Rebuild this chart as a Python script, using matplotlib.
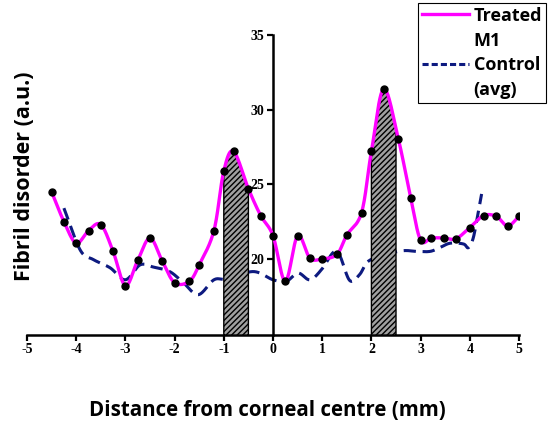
import matplotlib
matplotlib.use("Agg")
import matplotlib.pyplot as plt
import numpy as np

# treated eye (M1) measured points
treated_x = [-4.5, -4.25, -4.0, -3.75, -3.5, -3.25, -3.0, -2.75, -2.5, -2.25,
             -2.0, -1.7, -1.5, -1.2, -1.0, -0.8, -0.5, -0.25, 0.0, 0.25,
             0.5, 0.75, 1.0, 1.3, 1.5, 1.8, 2.0, 2.25, 2.55, 2.8,
             3.0, 3.22, 3.47, 3.72, 4.0, 4.28, 4.54, 4.77, 5.0]
treated_y = [24.5, 22.5, 21.05, 21.9, 22.3, 20.5, 18.2, 19.9, 21.4, 19.85,
             18.4, 18.5, 19.6, 21.9, 25.9, 27.2, 24.7, 22.9, 21.55, 18.5,
             21.55, 20.05, 20.0, 20.3, 21.6, 23.1, 27.2, 31.4, 28.0, 24.05,
             21.25, 21.4, 21.4, 21.35, 22.1, 22.9, 22.85, 22.2, 22.85]

# control average profile
control_x = [-4.25, -3.92, -3.65, -3.31, -3.0, -2.7, -2.43, -2.1, -1.82, -1.52,
             -1.2, -0.94, -0.4, 0.0, 0.27, 0.51, 0.75, 0.99, 1.23, 1.36,
             1.56, 1.76, 1.94, 2.3, 2.65, 2.92, 3.19, 3.39, 3.6, 3.87,
             3.97, 4.07, 4.17, 4.24]
control_y = [23.4, 20.6, 19.95, 19.4, 18.6, 19.6, 19.45, 19.15, 18.4, 17.6,
             18.6, 18.65, 19.15, 18.6, 18.5, 19.05, 18.6, 19.3, 20.45, 20.2,
             18.55, 18.95, 19.85, 20.3, 20.55, 20.5, 20.5, 20.75, 21.05, 21.0,
             20.75, 21.4, 23.1, 24.35]

# shaded regions of the treated profile
regions = [(-1.0, -0.5), (2.0, 2.5)]

x_ticks = [-5, -4, -3, -2, -1, 0, 1, 2, 3, 4, 5]
y_ticks = [20, 25, 30, 35]

MAGENTA = "#ff00ff"
NAVY = "#0d1a80"
LABEL_FONT = "Open Sans"


def _smooth(x, y, n=24):
    # Catmull-Rom curve through the points, only for drawing the line
    x = np.asarray(x, dtype=float)
    y = np.asarray(y, dtype=float)
    px = np.concatenate([[2 * x[0] - x[1]], x, [2 * x[-1] - x[-2]]])
    py = np.concatenate([[2 * y[0] - y[1]], y, [2 * y[-1] - y[-2]]])
    t = np.linspace(0, 1, n, endpoint=False)
    xs, ys = [], []
    for i in range(len(x) - 1):
        for p, out in ((px, xs), (py, ys)):
            p0, p1, p2, p3 = p[i:i + 4]
            out.append(0.5 * (2 * p1 + (p2 - p0) * t
                              + (2 * p0 - 5 * p1 + 4 * p2 - p3) * t ** 2
                              + (-p0 + 3 * p1 - 3 * p2 + p3) * t ** 3))
    xs.append([x[-1]])
    ys.append([y[-1]])
    return np.concatenate(xs), np.concatenate(ys)


fig = plt.figure(figsize=(5.48, 4.25), dpi=100)
ax = fig.add_axes([27 / 548, 90 / 425, 492 / 548, 300 / 425])

y_bottom = 14.9
ax.set_xlim(-5, 5)
ax.set_ylim(y_bottom, 35)

tx, ty = _smooth(treated_x, treated_y)
cx, cy = _smooth(control_x, control_y)

ax.plot(cx, cy, color=NAVY, linewidth=2.2, linestyle=(0, (4, 2.2)), zorder=2)

for x0, x1 in regions:
    sel = (tx > x0) & (tx < x1)
    fx = np.concatenate([[x0], tx[sel], [x1]])
    fy = np.concatenate([[np.interp(x0, tx, ty)], ty[sel], [np.interp(x1, tx, ty)]])
    ax.fill_between(fx, y_bottom, fy, facecolor="#a0a0a0", edgecolor="black",
                    hatch="//////", linewidth=1.0, zorder=3)

ax.plot(tx, ty, color=MAGENTA, linewidth=2.4, zorder=4)
ax.plot(treated_x, treated_y, "o", color="black", markersize=5, zorder=5)

# legend: second line of each label gets an empty handle
h_treat, = ax.plot([], [], color=MAGENTA, linewidth=2.4)
h_ctrl, = ax.plot([], [], color=NAVY, linewidth=2.2, linestyle=(0, (2, 1)))
h_none, = ax.plot([], [], color="none")
leg = fig.legend([h_treat, h_none, h_ctrl, h_none], ["Treated", "M1", "Control", "(avg)"],
                 loc="upper right", bbox_to_anchor=(0.999, 0.997),
                 frameon=True, fancybox=False, framealpha=1, edgecolor="black",
                 handlelength=2.6, handletextpad=0.25, borderpad=0.2, labelspacing=0.38,
                 borderaxespad=0.1,
                 prop={"family": LABEL_FONT, "weight": "bold", "size": 13})
leg.get_frame().set_linewidth(0.8)

ax.spines["left"].set_position(("data", 0))
ax.spines["right"].set_visible(False)
ax.spines["top"].set_visible(False)
for s in ("left", "bottom"):
    ax.spines[s].set_linewidth(1.8)

ax.set_xticks(x_ticks)
ax.set_xticklabels([str(v) for v in x_ticks])
ax.set_yticks(y_ticks)
ax.set_yticklabels([str(v) for v in y_ticks])
ax.tick_params(axis="both", direction="out", length=4, width=1.6, pad=2,
               labelsize=10)
for lab in ax.get_xticklabels() + ax.get_yticklabels():
    lab.set_fontfamily("Liberation Serif")
    lab.set_fontweight("bold")

fig.text(267 / 548, 1 - 410 / 425, "Distance from corneal centre (mm)",
         ha="center", va="center", fontsize=14.8, fontweight="bold", family=LABEL_FONT)
fig.text(25 / 548, 1 - 176 / 425, "Fibril disorder (a.u.)", rotation=90,
         ha="center", va="center", fontsize=15.5, fontweight="bold", family=LABEL_FONT)

fig.savefig("out.png", dpi=100)
